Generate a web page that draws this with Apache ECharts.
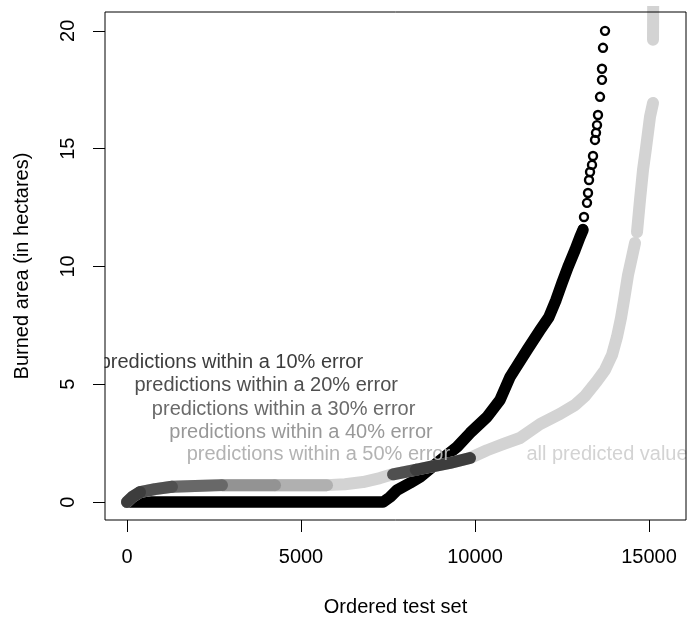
<!DOCTYPE html>
<html>
<head>
<meta charset="utf-8">
<script src="https://cdn.jsdelivr.net/npm/echarts@6/dist/echarts.min.js"></script>
<style>
html,body{margin:0;padding:0;background:#fff;}
#chart{width:688px;height:620px;}
</style>
</head>
<body>
<div id="chart"></div>
<script>
// ---- data ----
const xTicks = [0, 5000, 10000, 15000];
const yTicks = [0, 5, 10, 15, 20];

// observed burned area, ordered (dense part of the curve)
const actualBand = [[0,0],[7356,0],[7557,0.21],[7759,0.51],[8132,0.81],[8420,1.06],[8908,1.66],[9483,2.34],[9856,2.93],[10345,3.61],[10718,4.33],[11006,5.31],[11494,6.45],[11868,7.3],[12126,7.86],[12328,8.58],[12500,9.3],[12672,9.98],[12874,10.7],[13017,11.25],[13103,11.55]];
// observed burned area, sparse upper tail (individual circles)
const actualTail = [[13103,11.59],[13132,12.1],[13218,12.7],[13247,13.12],[13276,13.67],[13305,14.01],[13362,14.31],[13391,14.69],[13448,15.37],[13477,15.67],[13506,16.0],[13534,16.43],[13592,17.2],[13649,17.92],[13649,18.39],[13678,19.28],[13736,20.0]];

// all predicted values (three runs separated by gaps)
const predAllA = [[0,0],[144,0.21],[374,0.42],[805,0.55],[1236,0.64],[1954,0.68],[2672,0.72],[4195,0.72],[5747,0.72],[6264,0.76],[6782,0.85],[7270,1.02],[7557,1.15],[8132,1.32],[8707,1.49],[9282,1.66],[9856,1.87],[10345,2.2],[10805,2.46],[11293,2.72],[11868,3.31],[12443,3.74],[12874,4.12],[13161,4.5],[13506,5.14],[13736,5.61],[13937,6.24],[14080,7.01],[14195,7.81],[14282,8.58],[14397,9.64],[14511,10.4],[14598,11.0]];
const predAllB = [[14655,11.46],[14741,12.82],[14828,14.1],[14914,15.03],[15029,16.35],[15115,16.94]];
const predAllC = [[15115,19.62],[15125,22.5]];

// predictions within the error bands
const err50 = [[4253,0.72],[5747,0.72]];
const err40 = [[2730,0.72],[4253,0.72]];
const err30 = [[1293,0.65],[1954,0.68],[2730,0.72]];
const err20a = [[374,0.42],[805,0.55],[1293,0.65]];
const err20b = [[7644,1.18],[8300,1.37]];
const err10a = [[0,0],[144,0.21],[374,0.42]];
const err10b = [[8300,1.37],[8707,1.49],[9282,1.66],[9856,1.87]];

// text annotations
const labelText = ['predictions within a 10% error','predictions within a 20% error','predictions within a 30% error','predictions within a 40% error','predictions within a 50% error','all predicted values'];
const labelX = [3000, 4000, 4500, 5000, 5500, 13937];
const labelY = [5.92, 4.95, 3.95, 2.97, 2.0, 2.0];

// ---- styles ----
const FONT = '"Liberation Sans", Arial, Helvetica, sans-serif';
const bandColors = ['#3d3d3d','#505050','#686868','#939393','#b0b0b0','#d3d3d3'];
const textColors = ['#3c3c3c','#4f4f4f','#6a6a6a','#989898','#b3b3b3','#d3d3d3'];
const PRED_W = 12;

function band(data, color, w) {
  return {
    type: 'line', data: data, showSymbol: false, symbol: 'none', silent: true,
    lineStyle: { color: color, width: w, cap: 'round', join: 'round', opacity: 1 },
    clip: true, z: 2, animation: false
  };
}

const series = [
  band(actualBand, '#000', 11.5),
  {
    type: 'scatter', data: actualTail, symbol: 'circle', symbolSize: 8, silent: true,
    itemStyle: { color: 'rgba(0,0,0,0)', borderColor: '#000', borderWidth: 2.4, opacity: 1 },
    clip: true, z: 2, animation: false
  },
  band(predAllA, bandColors[5], PRED_W),
  band(predAllB, bandColors[5], PRED_W),
  band(predAllC, bandColors[5], PRED_W),
  band(err50, bandColors[4], PRED_W),
  band(err40, bandColors[3], PRED_W),
  band(err30, bandColors[2], PRED_W),
  band(err20a, bandColors[1], PRED_W),
  band(err20b, bandColors[1], PRED_W),
  band(err10a, bandColors[0], PRED_W),
  band(err10b, bandColors[0], PRED_W),
  {
    type: 'scatter', symbolSize: 0, silent: true, z: 3, animation: false,
    itemStyle: { color: 'rgba(0,0,0,0)', opacity: 1 },
    data: labelText.map((t, i) => ({
      value: [labelX[i], labelY[i]], name: t,
      label: { color: textColors[i] }
    })),
    label: {
      show: true, position: [0, 0], formatter: p => p.name,
      fontSize: 20, fontFamily: FONT, align: 'center', verticalAlign: 'middle',
      textBorderWidth: 0, textBorderColor: 'transparent', textShadowBlur: 0
    }
  }
];

const chart = echarts.init(document.getElementById('chart'), null, { renderer: 'canvas' });
chart.setOption({
  animation: false,
  backgroundColor: '#fff',
  grid: { left: 105, top: 12, right: 2, bottom: 100, show: true, borderColor: '#000', borderWidth: 1, backgroundColor: 'transparent', z: 10, containLabel: false, outerBoundsMode: 'none' },
  xAxis: {
    type: 'value', min: -632, max: 16063, z: 10,
    axisLine: { show: false, onZero: false },
    axisTick: { show: true, inside: false, length: 12, customValues: xTicks, lineStyle: { color: '#000', width: 1 } },
    axisLabel: { customValues: xTicks, margin: 27, fontSize: 20, color: '#000', fontFamily: FONT, formatter: v => String(v) },
    splitLine: { show: false },
    name: 'Ordered test set', nameLocation: 'middle', nameGap: 77,
    nameTextStyle: { fontSize: 20, color: '#000', fontFamily: FONT }
  },
  yAxis: {
    type: 'value', min: -0.76, max: 20.8, z: 10,
    axisLine: { show: false, onZero: false },
    axisTick: { show: true, inside: false, length: 12, customValues: yTicks, lineStyle: { color: '#000', width: 1 } },
    axisLabel: { customValues: yTicks, margin: 27, rotate: 90, fontSize: 20, color: '#000', fontFamily: FONT, formatter: v => String(v) },
    splitLine: { show: false },
    name: 'Burned area (in hectares)', nameLocation: 'middle', nameGap: 73, nameRotate: 90,
    nameTextStyle: { fontSize: 20, color: '#000', fontFamily: FONT }
  },
  graphic: [
    { type: 'rect', shape: { x: 0, y: 0, width: 104.5, height: 620 }, style: { fill: '#fff' }, z: 5, silent: true },
    { type: 'rect', shape: { x: 686.5, y: 0, width: 10, height: 620 }, style: { fill: '#fff' }, z: 5, silent: true }
  ],
  series: series
});
</script>
</body>
</html>
